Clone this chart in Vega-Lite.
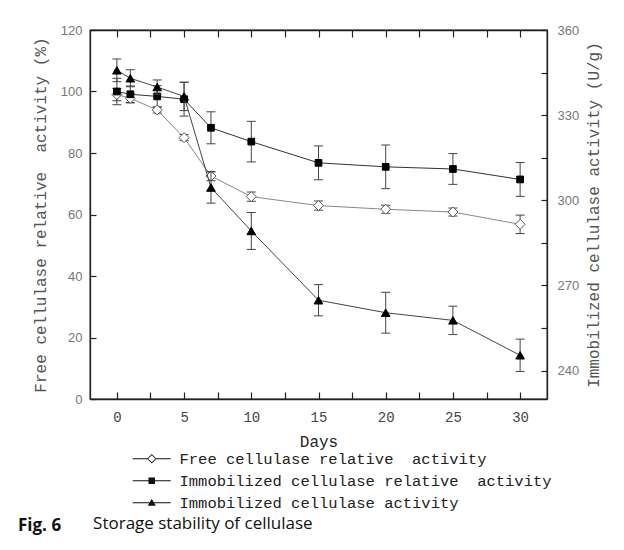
{
  "$schema": "https://vega.github.io/schema/vega-lite/v6.json",
  "width": 457,
  "height": 369,
  "autosize": "none",
  "padding": {"left": 90, "top": 30, "right": 77, "bottom": 151},
  "background": "white",
  "config": {
    "view": {"stroke": "#222", "strokeWidth": 1.3},
    "axis": {"grid": false, "labelOverlap": false, "domainColor": "#222", "domainWidth": 1.3, "tickColor": "#222", "tickWidth": 1.2, "labelFont": "Liberation Sans", "labelFontSize": 13, "labelColor": "#777", "titleFont": "Liberation Mono", "titleFontSize": 16, "titleFontWeight": "normal", "titleColor": "#555"},
    "legend": {"orient": "none", "legendX": 54, "legendY": 421, "symbolSize": 100, "symbolStrokeWidth": 0, "symbolOpacity": 1, "symbolFillColor": "#111", "labelFont": "Liberation Mono", "labelFontSize": 15.5, "labelColor": "#222", "labelOffset": 20, "rowPadding": 5, "labelLimit": 600, "padding": 0}
  },
  "title": {
    "text": "Fig. 6",
    "subtitle": "\u200b\u00a0\u00a0\u00a0\u00a0\u00a0\u00a0\u00a0\u00a0\u00a0\u00a0\u00a0\u00a0\u00a0\u00a0\u00a0\u00a0\u00a0Storage stability of cellulase",
    "orient": "bottom",
    "anchor": "start",
    "frame": "group",
    "dx": -72,
    "offset": 6,
    "font": "Open Sans",
    "fontSize": 17,
    "fontWeight": "bold",
    "color": "#111",
    "subtitleFont": "Open Sans",
    "subtitleFontSize": 17,
    "subtitleColor": "#111",
    "subtitlePadding": -19
  },
  "data": {
    "values": [
      {"day": 0, "series": "Free cellulase relative\u00a0 activity", "v": 99, "lo": 97, "hi": 101},
      {"day": 1, "series": "Free cellulase relative\u00a0 activity", "v": 97.8, "lo": 96.3, "hi": 99.3},
      {"day": 3, "series": "Free cellulase relative\u00a0 activity", "v": 94, "lo": 93, "hi": 95},
      {"day": 5, "series": "Free cellulase relative\u00a0 activity", "v": 85, "lo": 84, "hi": 86},
      {"day": 7, "series": "Free cellulase relative\u00a0 activity", "v": 72.5, "lo": 71, "hi": 74},
      {"day": 10, "series": "Free cellulase relative\u00a0 activity", "v": 65.8, "lo": 64.3, "hi": 67.3},
      {"day": 15, "series": "Free cellulase relative\u00a0 activity", "v": 62.9, "lo": 61.4, "hi": 64.4},
      {"day": 20, "series": "Free cellulase relative\u00a0 activity", "v": 61.7, "lo": 60.4, "hi": 63},
      {"day": 25, "series": "Free cellulase relative\u00a0 activity", "v": 60.8, "lo": 59.5, "hi": 62.1},
      {"day": 30, "series": "Free cellulase relative\u00a0 activity", "v": 56.8, "lo": 53.8, "hi": 59.8},
      {"day": 0, "series": "Immobilized cellulase relative\u00a0 activity", "v": 100, "lo": 95.7, "hi": 104.3},
      {"day": 1, "series": "Immobilized cellulase relative\u00a0 activity", "v": 99.1, "lo": 96.4, "hi": 101.8},
      {"day": 3, "series": "Immobilized cellulase relative\u00a0 activity", "v": 98.4, "lo": 94.9, "hi": 101.9},
      {"day": 5, "series": "Immobilized cellulase relative\u00a0 activity", "v": 97.5, "lo": 92, "hi": 103},
      {"day": 7, "series": "Immobilized cellulase relative\u00a0 activity", "v": 88.2, "lo": 83, "hi": 93.4},
      {"day": 10, "series": "Immobilized cellulase relative\u00a0 activity", "v": 83.7, "lo": 77.1, "hi": 90.3},
      {"day": 15, "series": "Immobilized cellulase relative\u00a0 activity", "v": 76.8, "lo": 71.3, "hi": 82.3},
      {"day": 20, "series": "Immobilized cellulase relative\u00a0 activity", "v": 75.5, "lo": 68.4, "hi": 82.6},
      {"day": 25, "series": "Immobilized cellulase relative\u00a0 activity", "v": 74.8, "lo": 69.8, "hi": 79.8},
      {"day": 30, "series": "Immobilized cellulase relative\u00a0 activity", "v": 71.4, "lo": 65.9, "hi": 76.9},
      {"day": 0, "series": "Immobilized cellulase activity", "v": 345.8, "lo": 341.8, "hi": 349.8},
      {"day": 1, "series": "Immobilized cellulase activity", "v": 343, "lo": 340, "hi": 346},
      {"day": 3, "series": "Immobilized cellulase activity", "v": 339.9, "lo": 337.4, "hi": 342.4},
      {"day": 5, "series": "Immobilized cellulase activity", "v": 336.6, "lo": 331.6, "hi": 341.6},
      {"day": 7, "series": "Immobilized cellulase activity", "v": 304.5, "lo": 299, "hi": 310},
      {"day": 10, "series": "Immobilized cellulase activity", "v": 289.2, "lo": 282.7, "hi": 295.7},
      {"day": 15, "series": "Immobilized cellulase activity", "v": 264.8, "lo": 259.3, "hi": 270.3},
      {"day": 20, "series": "Immobilized cellulase activity", "v": 260.4, "lo": 253.2, "hi": 267.6},
      {"day": 25, "series": "Immobilized cellulase activity", "v": 257.7, "lo": 252.7, "hi": 262.7},
      {"day": 30, "series": "Immobilized cellulase activity", "v": 245.4, "lo": 239.7, "hi": 251.1}
    ]
  },
  "layer": [
    {
      "transform": [{"filter": {"not": {"field": "series", "equal": "Immobilized cellulase activity"}}}],
      "encoding": {
        "x": {"field": "day", "type": "quantitative", "scale": {"domain": [-2, 32], "nice": false, "zero": false},
          "axis": {"orient": "bottom", "title": "Days", "values": [0, 2.5, 5, 7.5, 10, 12.5, 15, 17.5, 20, 22.5, 25, 27.5, 30], "labelExpr": "datum.value % 5 === 0 ? datum.label : ''", "labelOverlap": false, "tickSize": -7, "labelPadding": 18, "labelFont": "Liberation Mono", "labelFontSize": 14, "labelColor": "#444", "titleColor": "#222", "titlePadding": 9}}
      },
      "layer": [
        {
          "transform": [{"filter": {"field": "series", "equal": "Free cellulase relative\u00a0 activity"}}],
          "mark": {"type": "line", "strokeWidth": 1, "color": "#888"},
          "encoding": {
            "y": {"field": "v", "type": "quantitative", "scale": {"domain": [0, 120], "nice": false},
              "axis": {"orient": "left", "title": "Free cellulase relative\u00a0 activity (%)", "values": [0, 5, 10, 15, 20, 25, 30, 35, 40, 45, 50, 55, 60, 65, 70, 75, 80, 85, 90, 95, 100, 105, 110, 115, 120], "labelExpr": "datum.value % 10 === 0 ? datum.label : ''", "labelOverlap": false, "tickSize": -6, "labelPadding": 14, "titlePadding": 12}}
          }
        },
        {
          "transform": [{"filter": {"field": "series", "equal": "Immobilized cellulase relative\u00a0 activity"}}],
          "mark": {"type": "line", "strokeWidth": 1, "color": "#333"},
          "encoding": {
            "y": {"field": "v", "type": "quantitative", "axis": {"orient": "left", "title": "Free cellulase relative\u00a0 activity (%)"}}
          }
        },
        {
          "mark": {"type": "rule", "color": "#444", "strokeWidth": 1},
          "encoding": {
            "y": {"field": "lo", "type": "quantitative", "axis": {"orient": "left", "title": "Free cellulase relative\u00a0 activity (%)"}},
            "y2": {"field": "hi"}
          }
        },
        {
          "mark": {"type": "tick", "orient": "horizontal", "color": "#444", "size": 9, "thickness": 1, "opacity": 1},
          "encoding": {"y": {"field": "lo", "type": "quantitative", "axis": {"orient": "left", "title": "Free cellulase relative\u00a0 activity (%)"}}}
        },
        {
          "mark": {"type": "tick", "orient": "horizontal", "color": "#444", "size": 9, "thickness": 1, "opacity": 1},
          "encoding": {"y": {"field": "hi", "type": "quantitative", "axis": {"orient": "left", "title": "Free cellulase relative\u00a0 activity (%)"}}}
        },
        {
          "transform": [{"filter": {"field": "series", "equal": "Free cellulase relative\u00a0 activity"}}],
          "mark": {"type": "point", "shape": "diamond", "opacity": 1, "strokeWidth": 1, "fill": "white", "fillOpacity": 1, "stroke": "#555", "size": 100},
          "encoding": {
            "y": {"field": "v", "type": "quantitative", "axis": {"orient": "left", "title": "Free cellulase relative\u00a0 activity (%)"}}
          }
        },
        {
          "transform": [{"filter": {"field": "series", "equal": "Immobilized cellulase relative\u00a0 activity"}}],
          "mark": {"type": "point", "shape": "square", "opacity": 1, "strokeWidth": 1, "fill": "black", "fillOpacity": 1, "stroke": "black", "size": 45},
          "encoding": {
            "y": {"field": "v", "type": "quantitative", "axis": {"orient": "left", "title": "Free cellulase relative\u00a0 activity (%)"}}
          }
        },
        {
          "mark": {"type": "point", "filled": true, "color": "#111", "opacity": 0, "size": 100},
          "encoding": {
            "y": {"field": "v", "type": "quantitative", "axis": {"orient": "left", "title": "Free cellulase relative\u00a0 activity (%)"}},
            "shape": {"field": "series", "type": "nominal",
              "scale": {"domain": ["Free cellulase relative\u00a0 activity", "Immobilized cellulase relative\u00a0 activity", "Immobilized cellulase activity"],
                "range": [
                  "M-3.8,-0.1H-0.9V0.1H-3.8ZM0.9,-0.1H3.8V0.1H0.9ZM0,-0.95L0.95,0L0,0.95L-0.95,0ZM0,-0.72L-0.72,0L0,0.72L0.72,0Z",
                  "M-3.8,-0.1H3.8V0.1H-3.8ZM-0.65,-0.65H0.65V0.65H-0.65Z",
                  "M-3.8,-0.1H3.8V0.1H-3.8ZM0,-0.8L0.8,0.6H-0.8Z"
                ]},
              "legend": {"title": null, "symbolOpacity": 1, "symbolFillColor": "#111", "symbolStrokeWidth": 0}}
          }
        }
      ]
    },
    {
      "transform": [{"filter": {"field": "series", "equal": "Immobilized cellulase activity"}}],
      "encoding": {
        "x": {"field": "day", "type": "quantitative", "scale": {"domain": [-2, 32], "nice": false, "zero": false},
          "axis": {"orient": "top", "title": null, "values": [0, 2.5, 5, 7.5, 10, 12.5, 15, 17.5, 20, 22.5, 25, 27.5, 30], "labels": false, "tickSize": -7}}
      },
      "layer": [
        {
          "mark": {"type": "line", "strokeWidth": 1, "color": "#444"},
          "encoding": {
            "y": {"field": "v", "type": "quantitative", "scale": {"domain": [230, 360], "nice": false, "zero": false},
              "axis": {"orient": "right", "title": "Immobilized cellulase activity (U/g)", "values": [240, 255, 270, 285, 300, 315, 330, 345, 360], "labelExpr": "datum.value % 30 === 0 ? datum.label : ''", "labelOverlap": false, "tickSize": -6, "labelPadding": 16, "titleAngle": 270, "titlePadding": 23}}
          }
        },
        {
          "mark": {"type": "rule", "color": "#444", "strokeWidth": 1},
          "encoding": {
            "y": {"field": "lo", "type": "quantitative", "axis": {"orient": "right", "title": "Immobilized cellulase activity (U/g)"}},
            "y2": {"field": "hi"}
          }
        },
        {
          "mark": {"type": "tick", "orient": "horizontal", "color": "#444", "size": 9, "thickness": 1, "opacity": 1},
          "encoding": {"y": {"field": "lo", "type": "quantitative", "axis": {"orient": "right", "title": "Immobilized cellulase activity (U/g)"}}}
        },
        {
          "mark": {"type": "tick", "orient": "horizontal", "color": "#444", "size": 9, "thickness": 1, "opacity": 1},
          "encoding": {"y": {"field": "hi", "type": "quantitative", "axis": {"orient": "right", "title": "Immobilized cellulase activity (U/g)"}}}
        },
        {
          "mark": {"type": "point", "shape": "triangle-up", "opacity": 1, "strokeWidth": 1, "fill": "black", "fillOpacity": 1, "stroke": "black", "size": 75},
          "encoding": {
            "y": {"field": "v", "type": "quantitative", "axis": {"orient": "right", "title": "Immobilized cellulase activity (U/g)"}}
          }
        }
      ]
    }
  ],
  "resolve": {"scale": {"y": "independent"}, "axis": {"x": "independent"}}
}
